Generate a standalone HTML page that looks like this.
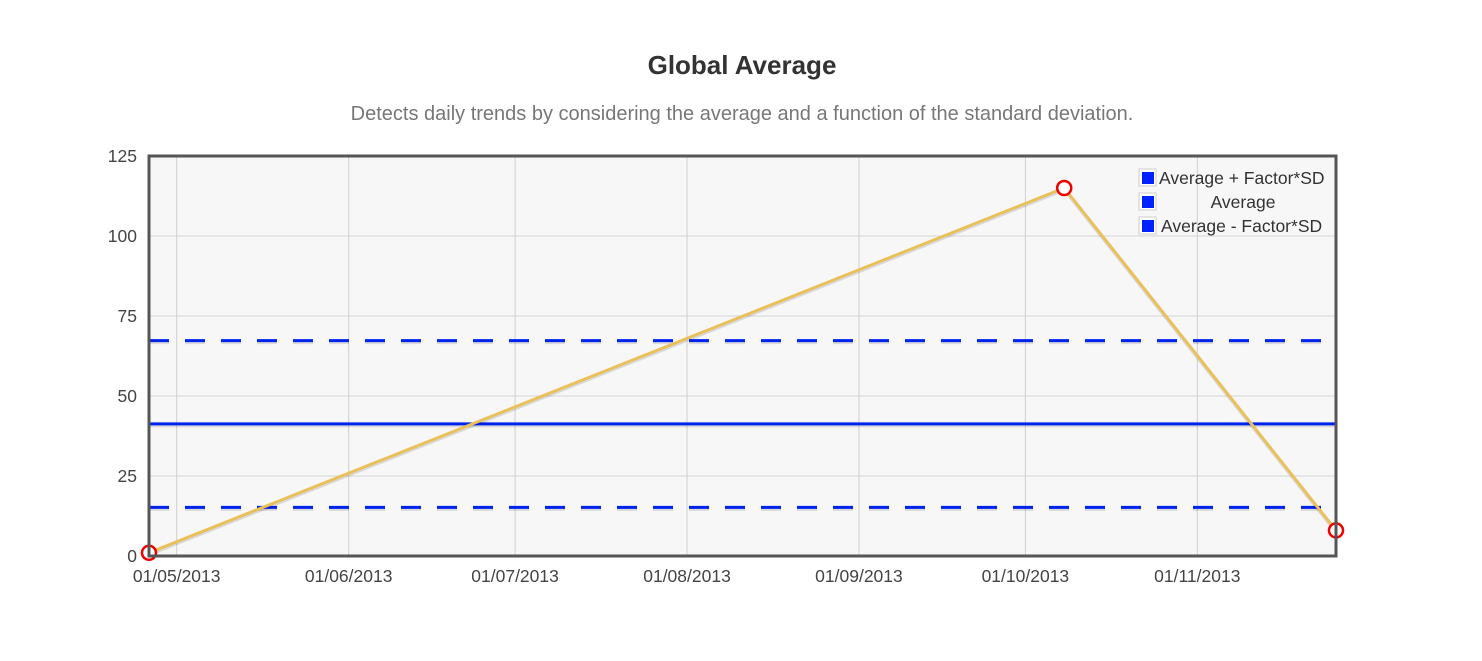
<!DOCTYPE html>
<html><head><meta charset="utf-8"><style>
body{margin:0;background:#fff;width:1482px;height:656px;overflow:hidden;font-family:"Liberation Sans",sans-serif}
</style></head><body>
<svg id="chart" width="1482" height="656" style="font-family:'Liberation Sans',sans-serif">
<text x="742" y="74" text-anchor="middle" font-size="26" font-weight="bold" fill="#333">Global Average</text>
<text x="742" y="120" text-anchor="middle" font-size="20" fill="#777">Detects daily trends by considering the average and a function of the standard deviation.</text>
<rect x="149" y="156" width="1187" height="400" fill="#f7f7f7"/>
<g id="grid"></g>
<g id="marks"></g>
<rect x="149" y="156" width="1187" height="400" fill="none" stroke="#555" stroke-width="3"/>
<g id="labels"></g>
<g font-size="17.5" fill="#333">
<g><rect x="1139" y="169" width="17" height="17" fill="#fff" stroke="#ccc"/><rect x="1142" y="172" width="12" height="12" fill="#0022ff"/><text x="1159" y="184">Average + Factor*SD</text></g>
<g><rect x="1139" y="193" width="17" height="17" fill="#fff" stroke="#ccc"/><rect x="1142" y="196" width="12" height="12" fill="#0022ff"/><text x="1243" y="208" text-anchor="middle">Average</text></g>
<g><rect x="1139" y="217" width="17" height="17" fill="#fff" stroke="#ccc"/><rect x="1142" y="220" width="12" height="12" fill="#0022ff"/><text x="1161" y="232">Average - Factor*SD</text></g>
</g>
</svg>
<script>
const dates=["2013-04-26","2013-10-08","2013-11-26"];
const values=[1,115,8];
const average=[41.3];
const upper=[67.3];
const lower=[15.2];
const yTicks=[0,25,50,75,100,125];
const xTicks=["2013-05-01","2013-06-01","2013-07-01","2013-08-01","2013-09-01","2013-10-01","2013-11-01"];
const NS="http://www.w3.org/2000/svg";
const L=149,R=1336,T=156,B=556;
const t=d=>Date.parse(d+"T00:00:00Z");
const t0=t(dates[0]),t1=t(dates[dates.length-1]);
const xs=d=>L+(t(d)-t0)/(t1-t0)*(R-L);
const ys=v=>B-v/125*(B-T);
function mk(tag,attrs,parent){const e=document.createElementNS(NS,tag);for(const k in attrs)e.setAttribute(k,attrs[k]);document.getElementById(parent).appendChild(e);return e;}
yTicks.forEach(v=>{
 const g=mk('line',{x1:L,x2:R,y1:ys(v),y2:ys(v),stroke:'#d4d4d4','stroke-width':1},'grid');
 
 
 const lb=mk('text',{x:L-12,y:ys(v)+6,'text-anchor':'end','font-size':17.5,fill:'#444'},'labels');
 lb.textContent=v;
 
 
});
xTicks.forEach(d=>{
 const x=xs(d);
 const g=mk('line',{x1:x,x2:x,y1:T,y2:B,stroke:'#cfcfcf','stroke-width':1},'grid');
 
 
 const p=d.split('-');
 const lb=mk('text',{x:x,y:582,'text-anchor':'middle','font-size':17.5,fill:'#444'},'labels');
 lb.textContent=p[2]+'/'+p[1]+'/'+p[0];
 
 
});
[[upper[0],'6 0 14 16','upper-bound-line'],[average[0],null,'average-line'],[lower[0],'6 0 14 16','lower-bound-line']].forEach(([v,da,n])=>{
 const a={x1:L,x2:R,y1:ys(v),y2:ys(v),stroke:'#0022ee','stroke-width':3};
 if(da)a['stroke-dasharray']=da;
 const sh=mk('line',Object.assign({},a,{stroke:'rgba(0,0,0,0.12)',y1:ys(v)+2,y2:ys(v)+2}),'marks');
 
 
 const l=mk('line',a,'marks');
 
 
});
const pts=dates.map((d,i)=>xs(d)+','+ys(values[i])).join(' ');
const sh=mk('polyline',{points:pts,fill:'none',stroke:'rgba(0,0,0,0.12)','stroke-width':3,transform:'translate(0,2)'},'marks');


const pl=mk('polyline',{points:pts,fill:'none',stroke:'#eac05a','stroke-width':3},'marks');


dates.forEach((d,i)=>{
 const c=mk('circle',{cx:xs(d),cy:ys(values[i]),r:7,fill:'#fff',stroke:'#ee0000','stroke-width':2.5},'marks');
 
 
});
</script>
</body></html>
